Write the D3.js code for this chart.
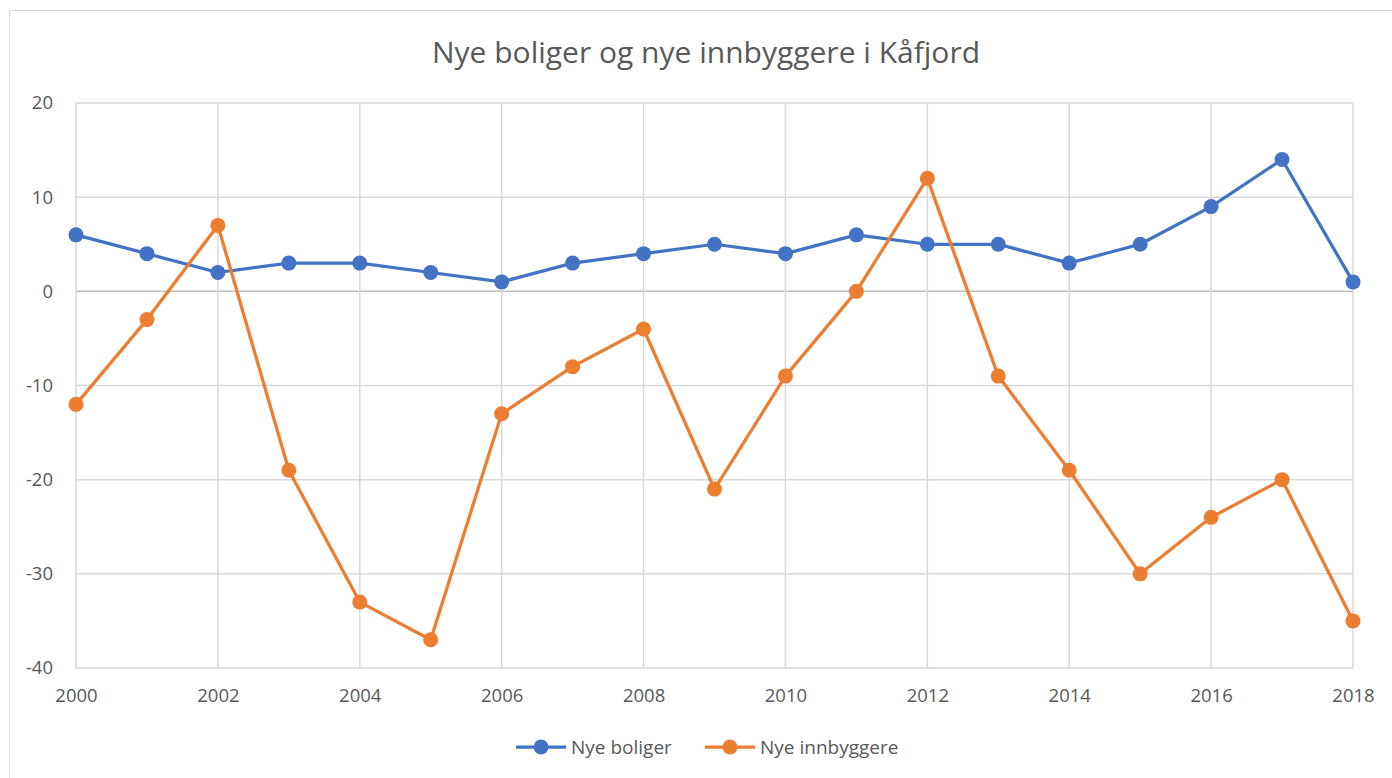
<!DOCTYPE html>
<html>
<head>
<meta charset="utf-8">
<script src="https://cdn.jsdelivr.net/npm/d3@7"></script>
<style>
  body { margin: 0; background: #fff; }
  text { font-family: "Open Sans", "Liberation Sans", sans-serif; fill: #595959; }
</style>
</head>
<body>
<script>
var w = 1392;
var h = 778;
var margin = {top: 103, right: 39, bottom: 110, left: 76};

var years = [2000, 2001, 2002, 2003, 2004, 2005, 2006, 2007, 2008, 2009,
             2010, 2011, 2012, 2013, 2014, 2015, 2016, 2017, 2018];
var boliger = [6, 4, 2, 3, 3, 2, 1, 3, 4, 5, 4, 6, 5, 5, 3, 5, 9, 14, 1];
var innbyggere = [-12, -3, 7, -19, -33, -37, -13, -8, -4, -21, -9, 0, 12, -9, -19, -30, -24, -20, -35];
var xTicks = [2000, 2002, 2004, 2006, 2008, 2010, 2012, 2014, 2016, 2018];
var yTicks = [-40, -30, -20, -10, 0, 10, 20];

var series = [
  {name: "Nye boliger", values: boliger, color: "#4472C4"},
  {name: "Nye innbyggere", values: innbyggere, color: "#ED7D31"}
];

var xScale = d3.scaleLinear()
               .domain([2000, 2018])
               .range([margin.left, w - margin.right]);

var yScale = d3.scaleLinear()
               .domain([-40, 20])
               .range([h - margin.bottom, margin.top]);

var svg = d3.select("body")
            .append("svg")
            .attr("width", w)
            .attr("height", h);

// chart frame
svg.append("rect")
   .attr("x", 9.5)
   .attr("y", 10.5)
   .attr("width", w)
   .attr("height", h)
   .attr("fill", "none")
   .attr("stroke", "#d9d9d9");

// gridlines
svg.append("g")
   .selectAll("line")
   .data(yTicks)
   .enter()
   .append("line")
   .attr("x1", margin.left)
   .attr("x2", w - margin.right)
   .attr("y1", function(d) { return yScale(d); })
   .attr("y2", function(d) { return yScale(d); })
   .attr("stroke", function(d) { return d == 0 ? "#bfbfbf" : "#d9d9d9"; })
   .attr("stroke-width", 1.5);

svg.append("g")
   .selectAll("line")
   .data(xTicks)
   .enter()
   .append("line")
   .attr("x1", function(d) { return xScale(d); })
   .attr("x2", function(d) { return xScale(d); })
   .attr("y1", margin.top)
   .attr("y2", h - margin.bottom)
   .attr("stroke", "#d9d9d9")
   .attr("stroke-width", 1.5);

// axes, labels only (plain hyphen for negatives, like the original)
var yAxis = d3.axisLeft(yScale).tickValues(yTicks).tickFormat(function(d) { return String(d); })
              .tickSize(0).tickPadding(23);
var xAxis = d3.axisBottom(xScale).tickValues(xTicks).tickFormat(function(d) { return String(d); })
              .tickSize(0).tickPadding(21);

var gy = svg.append("g")
   .attr("transform", "translate(" + margin.left + ",0)")
   .call(yAxis);
var gx = svg.append("g")
   .attr("transform", "translate(0," + (h - margin.bottom) + ")")
   .call(xAxis);

[gx, gy].forEach(function(g) {
  g.select(".domain").remove();
  g.selectAll("text")
   .attr("font-size", "18.5px")
   .style("font-family", "'Open Sans', 'Liberation Sans', sans-serif")
   .attr("fill", "#595959");
});

// lines and markers
var line = d3.line()
             .x(function(d, i) { return xScale(years[i]); })
             .y(function(d) { return yScale(d); });

series.forEach(function(s) {
  svg.append("path")
     .datum(s.values)
     .attr("fill", "none")
     .attr("stroke", s.color)
     .attr("stroke-width", 3.25)
     .attr("stroke-linejoin", "round")
     .attr("d", line);

  svg.append("g")
     .selectAll("circle")
     .data(s.values)
     .enter()
     .append("circle")
     .attr("cx", function(d, i) { return xScale(years[i]); })
     .attr("cy", function(d) { return yScale(d); })
     .attr("r", 7.5)
     .attr("fill", s.color);
});

// title
svg.append("text")
   .attr("text-anchor", "middle")
   .attr("x", 706)
   .attr("y", 63)
   .attr("font-size", "30px")
   .text("Nye boliger og nye innbyggere i Kåfjord");

// legend
var legend = svg.append("g")
   .selectAll("g")
   .data(series)
   .enter()
   .append("g")
   .attr("transform", function(d, i) { return "translate(" + (516 + i * 189) + ",747)"; });

legend.append("line")
   .attr("x1", 0)
   .attr("x2", 50)
   .attr("stroke", function(d) { return d.color; })
   .attr("stroke-width", 3.25);
legend.append("circle")
   .attr("cx", 25)
   .attr("r", 7.5)
   .attr("fill", function(d) { return d.color; });
legend.append("text")
   .attr("x", 55)
   .attr("y", 7)
   .attr("font-size", "19px")
   .text(function(d) { return d.name; });
</script>
</body>
</html>
